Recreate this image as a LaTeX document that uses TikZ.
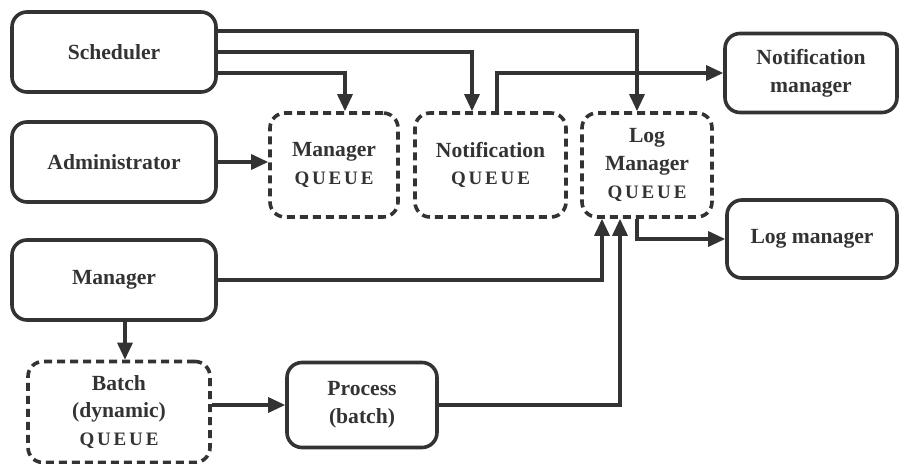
\documentclass[tikz,border=0pt]{standalone}
\usepackage{fontspec}
\setmainfont{Liberation Serif}
\newfontfamily\qfont[LetterSpace=15]{Liberation Serif}
\usetikzlibrary{arrows.meta}
\definecolor{ink}{HTML}{333333}
\newcommand{\Q}{{\qfont\bfseries\fontsize{9.5}{13.5}\selectfont QUEUE}}
\begin{document}
\begin{tikzpicture}[x=0.5pt,y=-0.5pt,
 box/.style={draw=ink, line width=1.8pt, rounded corners=7.5pt, align=center, text=ink,
   font=\fontsize{10.8}{13.8}\selectfont\bfseries, inner sep=0pt},
 qbox/.style={box, dash pattern=on 4pt off 2.5pt},
 arr/.style={draw=ink, line width=1.6pt, -{Triangle[length=8.5pt,width=7.5pt]}},
]
\useasboundingbox (0,0) rectangle (900,464);
\node[box, minimum width=102pt, minimum height=40pt] (sched) at (114,52) {Scheduler};
\node[box, minimum width=102pt, minimum height=40pt] (admin) at (114,162) {Administrator};
\node[box, minimum width=102pt, minimum height=40pt] (mgr) at (114,280) {Manager};
\node[qbox, minimum width=64pt, minimum height=52pt] (mgrq) at (334,165) {Manager\\\Q};
\node[qbox, minimum width=75.5pt, minimum height=52pt] (notq) at (490.5,165) {Notification\\\Q};
\node[qbox, minimum width=65pt, minimum height=52pt] (logq) at (647,165) {Log\\Manager\\\Q};
\node[box, minimum width=86pt, minimum height=39.5pt] (notm) at (811,73) {Notification\\manager};
\node[box, minimum width=85pt, minimum height=39pt] (logm) at (812,239) {Log manager};
\node[qbox, minimum width=91pt, minimum height=50.5pt] (batchq) at (119,412) {Batch\\(dynamic)\\\Q};
\node[box, minimum width=75pt, minimum height=42.5pt] (proc) at (362,405) {Process\\(batch)};

\draw[arr] ([yshift=10.5pt]sched.east) -| ([xshift=-5pt]logq.north);
\draw[arr] (sched.east) -| ([xshift=-9.25pt]notq.north);
\draw[arr] ([yshift=-10.5pt]sched.east) -| ([xshift=5.5pt]mgrq.north);
\draw[arr] (admin.east) -- (admin.east -| mgrq.west);
\draw[arr] ([xshift=3.25pt]notq.north) |- (notm.west);
\draw[arr] ([xshift=-5pt]logq.south) |- (logm.west);
\draw[arr] (mgr.east) -| ([xshift=-22.5pt]logq.south);
\draw[arr] (proc.east) -| ([xshift=-13.5pt]logq.south);
\draw[arr] ([xshift=5.5pt]mgr.south) -- ([xshift=3pt]batchq.north);
\draw[arr] (batchq.east |- proc.west) -- (proc.west);
\end{tikzpicture}
\end{document}
